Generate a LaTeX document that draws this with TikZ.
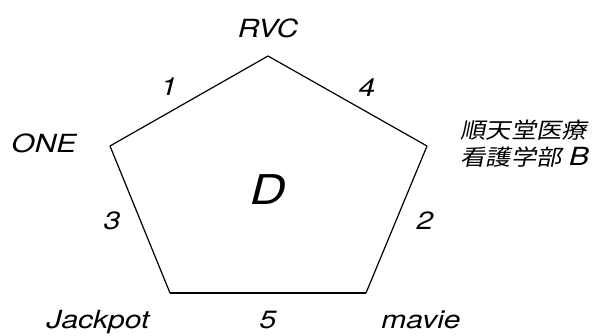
\documentclass[tikz,border=0pt]{standalone}
\usepackage{fontspec}
\setmainfont{TeX Gyre Heros}[FakeStretch=1.2]
\newfontfamily\cjk[FakeSlant=0.2,FakeStretch=1.15]{Noto Sans CJK JP}

\begin{document}
\begin{tikzpicture}[x=1pt, y=-1pt, line width=1.2pt,
                    every node/.style={inner sep=0pt, font=\fontsize{25}{27}\selectfont\itshape}]
                    \useasboundingbox (0,0) rectangle (602,335);

                    \coordinate (T) at (268,56);
                    \coordinate (L) at (110,146);
                    \coordinate (R) at (427,146);
                    \coordinate (BL) at (170,293);
                    \coordinate (BR) at (366,293);

                    \draw (T) -- (R);
                    \draw (R) -- (BR);
                    \draw (BR) -- (BL);
                    \draw (BL) -- (L);
                    \draw (L) -- (T);

                    \node[anchor=base] (rvc) at (268,37) {RVC};
                    \node[anchor=base] (one) at (44,152) {ONE};
                    \node[anchor=west, align=left, font=\fontsize{22}{27}\selectfont\itshape] (jun) at (460,144)
                        {{\cjk 順天堂医療}\\{\cjk 看護学部} {\fontsize{25}{27}\selectfont B}};
                    \node[anchor=base] (jack) at (98,328) {Jackpot};
                    \node[anchor=base] (mav) at (421,328) {mavie};

                    \node[anchor=base] (e1) at (169,95) {1};
                    \node[anchor=base] (e4) at (367,96) {4};
                    \node[anchor=base] (e3) at (112,229) {3};
                    \node[anchor=base] (e2) at (425,229) {2};
                    \node[anchor=base] (e5) at (268,328) {5};

                    \node[anchor=base, font=\fontsize{41}{43}\selectfont\itshape] (d) at (268,204) {D};
                \end{tikzpicture}
\end{document}
